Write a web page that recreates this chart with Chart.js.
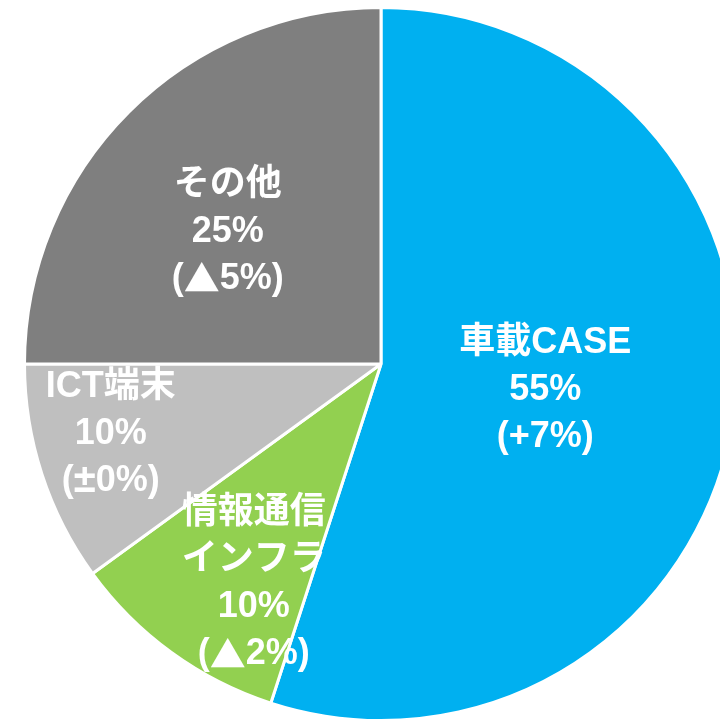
<!DOCTYPE html>
<html>
<head>
<meta charset="utf-8">
<script src="https://cdn.jsdelivr.net/npm/chart.js@4"></script>
<style>
  html, body { margin: 0; padding: 0; background: #fff; overflow: hidden; }
  #wrap { position: absolute; left: 0; top: 0; width: 762px; height: 730px; }
</style>
</head>
<body>
<div id="wrap"><canvas id="pie"></canvas></div>
<script>
// data
var categories = ['車載CASE', '情報通信インフラ', 'ICT端末', 'その他']
var shares = [55, 10, 10, 25]
var changes = ['+7%', '▲2%', '±0%', '▲5%']
var colors = ['#00B0F0', '#92D050', '#BFBFBF', '#7F7F7F']

// label text lines per slice (name may wrap)
var nameLines = [['車載CASE'], ['情報通信', 'インフラ'], ['ICT端末'], ['その他']]
// anchor of the "percent" line, as fraction of radius from pie centre
var labelAnchor = [[0.461, 0.073], [-0.357, 0.683], [-0.758, 0.197], [-0.430, -0.371]]

var latinFont = 'bold 36px "Liberation Sans", "Noto Sans CJK JP", sans-serif'
var cjkFont = 'bold 36px "Noto Sans CJK JP", sans-serif'
var plusMinusFont = 'bold 40px "Liberation Sans", sans-serif'

function fontFor(p){
  if (p === '▲') return cjkFont
  if (p === '±') return plusMinusFont
  return latinFont
}

// draw one line centred at x, symbols in their own face
function drawLine(ctx, text, x, y){
  var parts = text.split(/([▲±])/).filter(function(p){ return p !== '' })
  var total = 0
  var widths = parts.map(function(p){
    ctx.font = fontFor(p)
    var w = ctx.measureText(p).width
    total += w
    return w
  })
  var cur = x - total / 2
  parts.forEach(function(p, k){
    ctx.font = fontFor(p)
    ctx.fillText(p, cur, y)
    cur += widths[k]
  })
}

var sliceLabels = {
  id: 'sliceLabels',
  afterDatasetsDraw: function(chart){
    var ctx = chart.ctx
    var arcs = chart.getDatasetMeta(0).data
    ctx.save()
    ctx.fillStyle = '#fff'
    ctx.textAlign = 'left'
    ctx.textBaseline = 'middle'
    var lineH = 47
    arcs.forEach(function(arc, i){
      var r = arc.outerRadius
      var cx = arc.x + labelAnchor[i][0] * r
      var cy = arc.y + labelAnchor[i][1] * r
      var lines = nameLines[i].concat([shares[i] + '%', '(' + changes[i] + ')'])
      var pctIdx = nameLines[i].length
      lines.forEach(function(t, k){
        drawLine(ctx, t, cx, cy + (k - pctIdx) * lineH)
      })
    })
    ctx.restore()
  }
}

new Chart(document.getElementById('pie'), {
  type: 'pie',
  data: {
    labels: categories,
    datasets: [{
      data: shares,
      backgroundColor: colors,
      borderColor: '#fff',
      borderWidth: 3,
      hoverOffset: 0,
      offset: 0
    }]
  },
  options: {
    responsive: true,
    maintainAspectRatio: false,
    animation: false,
    events: [],
    layout: { padding: { top: 6, bottom: 8, left: 8, right: 8 } },
    plugins: {
      legend: { display: false },
      tooltip: { enabled: false }
    }
  },
  plugins: [sliceLabels]
})
</script>
</body>
</html>
